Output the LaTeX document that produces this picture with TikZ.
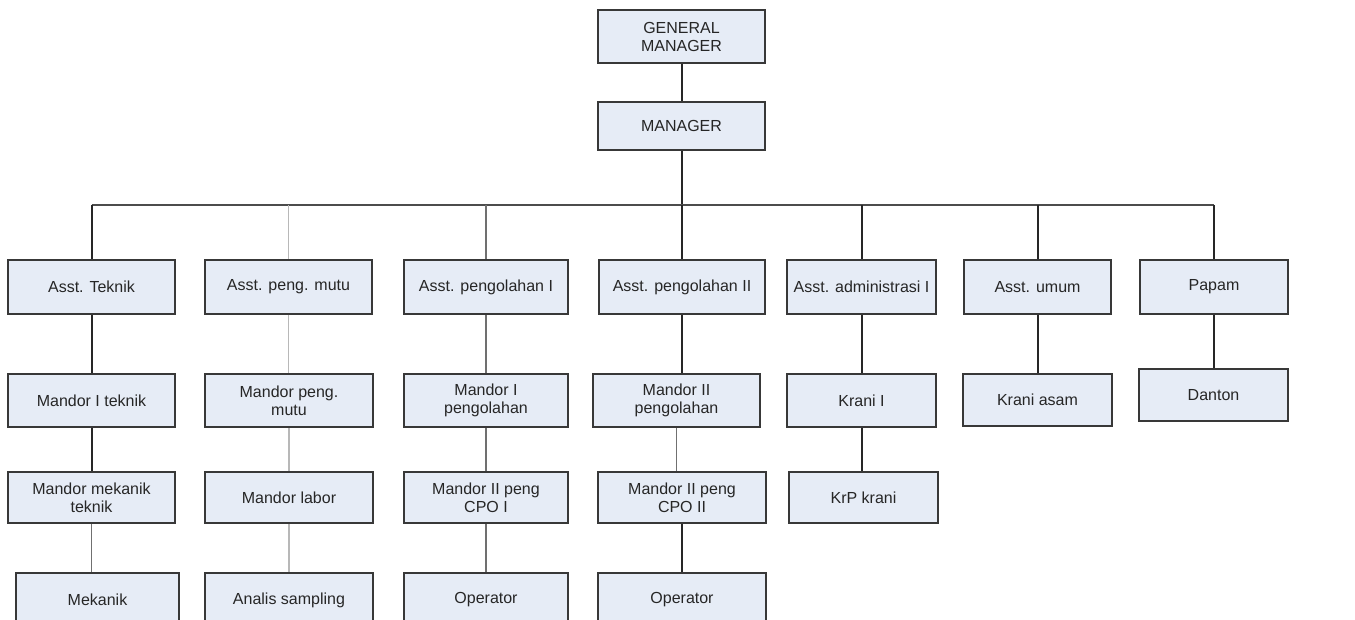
\documentclass[tikz,border=0pt]{standalone}
\usepackage{fontspec}
\setmainfont{Liberation Sans}
\definecolor{boxfill}{HTML}{E6ECF6}
\definecolor{boxline}{HTML}{383838}
\definecolor{lightln}{HTML}{B8B8B8}
\definecolor{midln}{HTML}{707070}
\begin{document}
\begin{tikzpicture}[x=1pt,y=-1pt,
  box/.style={draw=boxline,line width=2pt,fill=boxfill,inner sep=0pt,align=center,
    font=\fontsize{16}{18}\selectfont,text=black!85},
  conn/.style={draw=black!85,line width=2pt},
  lconn/.style={draw=lightln,line width=1.2pt},
  mconn/.style={draw=midln,line width=1.5pt}]
\useasboundingbox (0,0) rectangle (1355,620);
\fill[white] (0,0) rectangle (1355,620);
% top
\node[box,minimum width=167pt,minimum height=53pt] (gm) at (681.5,36.5) {GENERAL\\MANAGER};
\node[box,minimum width=167pt,minimum height=48pt] (mgr) at (681.5,126) {MANAGER};
\coordinate (bus) at (681.5,205);
% level 1
\node[box,minimum width=167pt,minimum height=54pt] (a1) at (91.5,287) {Asst. Teknik};
\node[box,minimum width=167pt,minimum height=54pt] (a2) at (288.5,287) {Asst. peng. mutu};
\node[box,minimum width=164pt,minimum height=54pt] (a3) at (486,287) {Asst. pengolahan I};
\node[box,minimum width=166pt,minimum height=54pt] (a4) at (682,287) {Asst. pengolahan II};
\node[box,minimum width=149pt,minimum height=54pt] (a5) at (861.5,287) {Asst. administrasi I};
\node[box,minimum width=147pt,minimum height=54pt] (a6) at (1037.5,287) {Asst. umum};
\node[box,minimum width=148pt,minimum height=54pt] (a7) at (1214,287) {Papam};
% level 2
\node[box,minimum width=167pt,minimum height=53pt] (b1) at (91.5,400.5) {Mandor I teknik};
\node[box,minimum width=168pt,minimum height=53pt] (b2) at (289,400.5) {Mandor peng.\\mutu};
\node[box,minimum width=164pt,minimum height=53pt] (b3) at (486,400.5) {Mandor I\\pengolahan};
\node[box,minimum width=167pt,minimum height=53pt] (b4) at (676.5,400.5) {Mandor II\\pengolahan};
\node[box,minimum width=149pt,minimum height=53pt] (b5) at (861.5,400.5) {Krani I};
\node[box,minimum width=149pt,minimum height=52pt] (b6) at (1037.5,400) {Krani asam};
\node[box,minimum width=149pt,minimum height=52pt] (b7) at (1213.5,395) {Danton};
% level 3
\node[box,minimum width=167pt,minimum height=51pt] (c1) at (91.5,497.5) {Mandor mekanik\\teknik};
\node[box,minimum width=168pt,minimum height=51pt] (c2) at (289,497.5) {Mandor labor};
\node[box,minimum width=164pt,minimum height=51pt] (c3) at (486,497.5) {Mandor II peng\\CPO I};
\node[box,minimum width=168pt,minimum height=51pt] (c4) at (682,497.5) {Mandor II peng\\CPO II};
\node[box,minimum width=149pt,minimum height=51pt] (c5) at (863.5,497.5) {KrP krani};
% level 4
\node[box,minimum width=163pt,minimum height=54pt] (d1) at (97.5,600) {Mekanik};
\node[box,minimum width=168pt,minimum height=54pt] (d2) at (289,600) {Analis sampling};
\node[box,minimum width=164pt,minimum height=54pt] (d3) at (486,600) {Operator};
\node[box,minimum width=168pt,minimum height=54pt] (d4) at (682,600) {Operator};
% connectors
\draw[conn] (gm.south) -- (mgr.north);
\draw[conn] (mgr.south) -- (bus);
\draw[conn,draw=black!70,line width=2.4pt] (a1.north |- bus) -- (a7.north |- bus);
\draw[conn] (a1.north) -- (a1.north |- bus);
\draw[lconn] (a2.north) -- (a2.north |- bus);
\draw[mconn] (a3.north) -- (a3.north |- bus);
\draw[conn] (a4.north) -- (a4.north |- bus);
\draw[conn] (a5.north) -- (a5.north |- bus);
\draw[conn] (a6.north) -- (a6.north |- bus);
\draw[conn] (a7.north) -- (a7.north |- bus);
\draw[conn] (a1.south) -- (a1.south |- b1.north);
\draw[lconn] (a2.south) -- (a2.south |- b2.north);
\draw[mconn] (a3.south) -- (a3.south |- b3.north);
\draw[conn] (a4.south) -- (a4.south |- b4.north);
\draw[conn] (a5.south) -- (a5.south |- b5.north);
\draw[conn] (a6.south) -- (a6.south |- b6.north);
\draw[conn] (a7.south) -- (a7.south |- b7.north);
\draw[conn] (b1.south) -- (b1.south |- c1.north);
\draw[lconn] (b2.south) -- (b2.south |- c2.north);
\draw[mconn] (b3.south) -- (b3.south |- c3.north);
\draw[mconn] (b4.south) -- (b4.south |- c4.north);
\draw[conn] (b5.south) -- (b5.south |- c5.north);
\draw[mconn] (c1.south) -- (c1.south |- d1.north);
\draw[lconn] (c2.south) -- (c2.south |- d2.north);
\draw[mconn] (c3.south) -- (c3.south |- d3.north);
\draw[conn] (c4.south) -- (c4.south |- d4.north);
\end{tikzpicture}
\end{document}
